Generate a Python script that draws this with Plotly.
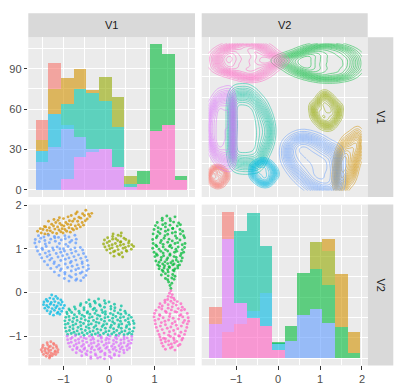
import numpy as np
import plotly.graph_objects as go

# ---------------- data ----------------
cluster_names = ["1", "2", "3", "4", "5", "6", "7", "8", "9"]
cluster_colors = ["#F8766D", "#D39200", "#93AA00", "#00BA38", "#00C19F",
                  "#00B9E3", "#619CFF", "#DB72FB", "#FF61C3"]

red_v1 = [-1.36,-1.28,-1.22, -1.45,-1.35,-1.29,-1.21,-1.16, -1.46,-1.40,-1.32,-1.23,-1.15,
          -1.49,-1.41,-1.34,-1.28,-1.18,-1.12, -1.47,-1.39,-1.32,-1.27,-1.19,-1.13,
          -1.44,-1.35,-1.30,-1.22,-1.17, -1.38,-1.30,-1.25, -1.31]
red_v2 = [-1.15,-1.13,-1.17, -1.21,-1.20,-1.23,-1.19,-1.22, -1.26,-1.28,-1.25,-1.27,-1.26,
          -1.31,-1.33,-1.30,-1.32,-1.34,-1.31, -1.36,-1.38,-1.35,-1.39,-1.36,-1.37,
          -1.42,-1.40,-1.44,-1.41,-1.42, -1.46,-1.47,-1.45, -1.50]

orange_v1 = [-1.57,-1.51, -1.49,-1.45,-1.42, -1.41,-1.36,-1.39, -1.34,-1.29,-1.31,-1.26,-1.33,
             -1.24,-1.19,-1.22,-1.17,-1.21, -1.15,-1.10,-1.13,-1.08,-1.12, -1.06,-1.04,-1.09,-1.03,
             -1.01,-0.97,-0.99,-0.95,-1.00, -0.93,-0.88,-0.91,-0.87,-0.90, -0.85,-0.81,-0.84,-0.80,-0.83,
             -0.78,-0.74,-0.76,-0.73, -0.71,-0.67,-0.69,-0.66,-0.70, -0.63,-0.59,-0.62,-0.58,
             -0.56,-0.52,-0.54,-0.51, -0.48,-0.45, -0.42,-0.38]
orange_v2 = [1.40,1.46, 1.36,1.44,1.51, 1.34,1.42,1.50, 1.33,1.41,1.48,1.56,1.63,
             1.37,1.45,1.52,1.60,1.67, 1.35,1.43,1.50,1.58,1.65, 1.39,1.54,1.71,1.46,
             1.36,1.44,1.52,1.60,1.69, 1.40,1.48,1.56,1.64,1.73, 1.38,1.46,1.55,1.63,1.76,
             1.43,1.52,1.68,1.80, 1.46,1.55,1.63,1.72,1.84, 1.50,1.60,1.70,1.80,
             1.54,1.64,1.76,1.88, 1.68,1.79, 1.74,1.81]

olive_v1 = [0.09,0.20,0.27, -0.03,0.08,0.15,0.26,0.33, -0.10,0.01,0.08,0.19,0.26,0.37,0.44,
            -0.12,-0.04,0.07,0.14,0.25,0.32,0.43,0.50, -0.09,0.00,0.07,0.18,0.25,0.36,0.43,0.54,
            -0.05,0.02,0.13,0.20,0.31,0.38,0.49, 0.03,0.10,0.21,0.28,0.39, 0.11,0.23,0.30]
olive_v2 = [1.34,1.31,1.36, 1.25,1.28,1.23,1.29,1.24, 1.20,1.17,1.22,1.19,1.16,1.21,1.18,
            1.11,1.14,1.09,1.12,1.15,1.10,1.13,1.09, 1.04,1.07,1.02,1.05,1.08,1.03,1.06,1.05,
            0.97,1.00,0.95,0.98,1.01,0.96,0.99, 0.90,0.93,0.88,0.91,0.94, 0.83,0.86,0.81]

green_v1 = [1.17,1.27,1.34,1.45,
            1.06,1.17,1.24,1.35,1.42,1.53,
            1.02,1.08,1.18,1.24,1.34,1.40,1.50,1.57,
            0.99,1.08,1.14,1.24,1.30,1.40,1.46,1.56,1.62,
            0.97,1.06,1.12,1.23,1.29,1.39,1.46,1.57,1.64,
            0.96,1.04,1.15,1.21,1.32,1.39,1.49,1.56,1.66,
            0.97,1.03,1.13,1.19,1.29,1.35,1.45,1.51,1.61,1.67,
            0.96,1.05,1.10,1.19,1.24,1.33,1.38,1.47,1.52,1.61,1.66,
            0.99,1.04,1.14,1.19,1.29,1.34,1.44,1.49,1.59,1.64,
            1.01,1.06,1.15,1.20,1.29,1.34,1.43,1.48,1.57,1.61,
            1.03,1.10,1.14,1.23,1.27,1.36,1.40,1.48,1.52,1.59,
            1.07,1.11,1.18,1.22,1.29,1.32,1.40,1.43,1.51,1.55,
            1.10,1.17,1.21,1.29,1.33,1.41,1.45,1.51,
            1.19,1.30,1.43,
            1.15,1.24,1.30,1.40,1.45,
            1.24,1.29,1.38,1.43,
            1.31,1.38,
            1.34,1.36]
green_v2 = [1.70,1.75,1.69,1.73,
            1.60,1.65,1.58,1.64,1.61,1.59,
            1.53,1.48,1.55,1.50,1.54,1.47,1.52,1.55,
            1.44,1.39,1.45,1.40,1.43,1.46,1.38,1.44,1.40,
            1.34,1.29,1.35,1.30,1.33,1.36,1.29,1.34,1.30,
            1.21,1.25,1.19,1.24,1.22,1.18,1.24,1.20,1.25,
            1.12,1.08,1.14,1.10,1.15,1.08,1.12,1.14,1.09,1.12,
            1.01,1.05,0.99,1.04,0.98,1.05,1.02,0.99,1.04,0.98,1.03,
            0.92,0.88,0.94,0.90,0.95,0.88,0.92,0.94,0.89,0.92,
            0.82,0.85,0.80,0.84,0.79,0.85,0.82,0.80,0.84,0.79,
            0.72,0.69,0.74,0.70,0.75,0.68,0.72,0.74,0.70,0.72,
            0.63,0.60,0.65,0.61,0.66,0.59,0.63,0.65,0.61,0.63,
            0.54,0.51,0.56,0.52,0.57,0.51,0.54,0.56,
            0.48,0.47,0.49,
            0.40,0.43,0.38,0.41,0.37,
            0.32,0.29,0.33,0.30,
            0.24,0.21,
            0.16,0.09]

teal_v1 = [-0.44,-0.32,-0.23,-0.10,
           -0.62,-0.50,-0.42,-0.30,-0.21,-0.08,0.00,0.12,
           -0.76,-0.63,-0.55,-0.41,-0.32,-0.19,-0.10,0.04,0.13,0.27,
           -0.86,-0.74,-0.66,-0.55,-0.47,-0.35,-0.28,-0.16,-0.08,0.04,0.12,0.25,0.35,
           -0.92,-0.82,-0.76,-0.65,-0.59,-0.48,-0.42,-0.31,-0.25,-0.14,-0.08,0.03,0.09,0.20,0.26,0.37,0.44,
           -0.95,-0.88,-0.78,-0.71,-0.61,-0.54,-0.43,-0.37,-0.26,-0.20,-0.09,-0.02,0.08,0.15,0.25,0.32,0.42,0.49,
           -0.97,-0.87,-0.80,-0.70,-0.63,-0.52,-0.45,-0.34,-0.28,-0.17,-0.10,0.01,0.08,0.19,0.25,0.36,0.43,0.53,
           -0.96,-0.90,-0.79,-0.73,-0.62,-0.56,-0.45,-0.39,-0.29,-0.22,-0.12,-0.05,0.05,0.12,0.22,0.28,0.39,0.45,0.55,
           -0.96,-0.86,-0.79,-0.68,-0.61,-0.50,-0.44,-0.33,-0.26,-0.15,-0.08,0.03,0.10,0.21,0.27,0.38,0.45,0.55,
           -0.94,-0.87,-0.77,-0.70,-0.59,-0.52,-0.42,-0.35,-0.24,-0.18,-0.07,0.00,0.11,0.17,0.28,0.35,0.45,0.52,
           -0.91,-0.83,-0.73,-0.66,-0.55,-0.48,-0.38,-0.30,-0.20,-0.12,-0.02,0.06,0.16,0.23,0.33,0.41,0.50,
           -0.93,-0.88]
teal_v2 = [-0.17,-0.20,-0.15,-0.19,
           -0.26,-0.23,-0.27,-0.24,-0.28,-0.25,-0.22,-0.27,
           -0.33,-0.30,-0.35,-0.32,-0.36,-0.31,-0.34,-0.32,-0.35,-0.31,
           -0.41,-0.38,-0.43,-0.40,-0.44,-0.39,-0.42,-0.40,-0.44,-0.38,-0.42,-0.40,-0.43,
           -0.49,-0.46,-0.51,-0.48,-0.52,-0.47,-0.50,-0.48,-0.52,-0.46,-0.50,-0.48,-0.51,-0.47,-0.50,-0.48,-0.52,
           -0.57,-0.55,-0.59,-0.56,-0.60,-0.55,-0.58,-0.56,-0.60,-0.54,-0.58,-0.56,-0.59,-0.55,-0.58,-0.56,-0.60,-0.57,
           -0.65,-0.63,-0.67,-0.64,-0.68,-0.63,-0.66,-0.64,-0.68,-0.62,-0.66,-0.64,-0.67,-0.63,-0.66,-0.64,-0.68,-0.65,
           -0.73,-0.71,-0.75,-0.72,-0.76,-0.71,-0.74,-0.72,-0.76,-0.70,-0.74,-0.72,-0.75,-0.71,-0.74,-0.72,-0.76,-0.73,-0.71,
           -0.81,-0.79,-0.83,-0.80,-0.84,-0.79,-0.82,-0.80,-0.84,-0.78,-0.82,-0.80,-0.83,-0.79,-0.82,-0.80,-0.84,-0.81,
           -0.89,-0.87,-0.91,-0.88,-0.92,-0.87,-0.90,-0.88,-0.92,-0.86,-0.90,-0.88,-0.91,-0.87,-0.90,-0.88,-0.92,-0.89,
           -0.96,-0.94,-0.97,-0.95,-0.98,-0.94,-0.97,-0.95,-0.98,-0.94,-0.97,-0.95,-0.98,-0.94,-0.97,-0.95,-0.96,
           -0.45,-0.38]

cyan_v1 = [-1.26,-1.17, -1.38,-1.30,-1.22,-1.13,-1.06, -1.43,-1.35,-1.27,-1.19,-1.11,-1.03,
           -1.44,-1.37,-1.29,-1.21,-1.14,-1.06,-0.98, -1.41,-1.33,-1.25,-1.17,-1.09,-1.01,
           -1.36,-1.28,-1.20,-1.12,-1.04, -1.30,-1.22,-1.14,-1.08]
cyan_v2 = [-0.06,-0.09, -0.16,-0.13,-0.15,-0.14,-0.17, -0.22,-0.20,-0.23,-0.21,-0.24,-0.22,
           -0.28,-0.30,-0.27,-0.29,-0.31,-0.28,-0.30, -0.36,-0.34,-0.37,-0.35,-0.38,-0.36,
           -0.42,-0.44,-0.41,-0.45,-0.43, -0.49,-0.52,-0.48,-0.50]

blue_v1 = [-1.55,-1.43,-1.33,-1.20,-1.11,-0.97,-0.88,-0.75,
           -1.62,-1.50,-1.41,-1.28,-1.19,-1.05,-0.96,-0.82,-0.72,
           -1.63,-1.53,-1.40,-1.31,-1.18,-1.09,-0.95,-0.86,-0.73,
           -1.60,-1.47,-1.38,-1.24,-1.14,-1.00,-0.90,-0.75,-0.63,
           -1.57,-1.46,-1.32,-1.22,-1.08,-0.98,-0.84,-0.73,-0.58,
           -1.52,-1.40,-1.30,-1.16,-1.06,-0.92,-0.82,-0.67,-0.56,
           -1.48,-1.36,-1.26,-1.12,-1.02,-0.88,-0.77,-0.62,-0.51,
           -1.42,-1.30,-1.20,-1.06,-0.96,-0.83,-0.73,-0.59,-0.48,
           -1.35,-1.21,-1.10,-0.96,-0.85,-0.70,-0.59,-0.46,
           -1.28,-1.15,-1.05,-0.91,-0.81,-0.67,-0.57,-0.45,
           -1.20,-1.07,-0.97,-0.83,-0.73,-0.59,-0.49,
           -1.10,-0.97,-0.87,-0.73,-0.63,-0.51,
           -0.98,-0.83,-0.71,-0.56,
           -0.88,-0.73,-0.62]
blue_v2 = [1.30,1.27,1.31,1.28,1.26,1.30,1.27,1.31,
           1.21,1.24,1.19,1.22,1.25,1.20,1.23,1.19,1.22,
           1.13,1.16,1.11,1.14,1.17,1.12,1.10,1.15,1.13,
           1.04,1.01,1.05,1.02,1.04,1.00,1.05,1.02,1.03,
           0.95,0.98,0.94,0.97,1.00,0.95,0.98,0.94,0.97,
           0.87,0.90,0.86,0.89,0.92,0.87,0.90,0.86,0.89,
           0.79,0.82,0.78,0.81,0.84,0.79,0.82,0.78,0.81,
           0.71,0.74,0.70,0.73,0.76,0.71,0.74,0.70,0.73,
           0.63,0.66,0.62,0.65,0.68,0.63,0.66,0.62,
           0.55,0.58,0.54,0.57,0.60,0.55,0.58,0.54,
           0.47,0.50,0.46,0.49,0.52,0.47,0.50,
           0.39,0.42,0.38,0.41,0.44,0.39,
           0.32,0.35,0.31,0.34,
           0.26,0.28,0.27]

purple_v1 = [-0.92,-0.81,-0.74,-0.62,-0.55,-0.43,-0.36,-0.24,-0.17,-0.05,0.02,0.14,0.21,0.33,0.40,0.50,
             -0.91,-0.84,-0.74,-0.67,-0.58,-0.50,-0.40,-0.34,-0.24,-0.17,-0.07,0.00,0.10,0.17,0.26,0.33,0.43,0.50,
             -0.89,-0.83,-0.72,-0.66,-0.56,-0.49,-0.39,-0.33,-0.23,-0.16,-0.06,0.00,0.10,0.16,0.26,0.33,0.42,0.48,
             -0.86,-0.77,-0.70,-0.60,-0.53,-0.44,-0.37,-0.27,-0.20,-0.11,-0.04,0.06,0.13,0.22,0.29,0.39,0.45,
             -0.80,-0.71,-0.64,-0.55,-0.48,-0.39,-0.32,-0.23,-0.16,-0.07,0.00,0.09,0.16,0.25,0.32,0.40,
             -0.72,-0.60,-0.51,-0.40,-0.30,-0.19,-0.09,0.02,0.12,0.23,0.33,
             -0.60,-0.49,-0.40,-0.29,-0.19,-0.09,0.01,0.12,0.22,
             -0.40,-0.25,-0.10,0.05]
purple_v2 = [-1.00,-1.03,-0.99,-1.02,-1.04,-1.00,-1.03,-0.99,-1.02,-1.04,-1.00,-1.03,-0.99,-1.02,-1.04,-1.01,
             -1.08,-1.06,-1.10,-1.07,-1.11,-1.06,-1.09,-1.07,-1.11,-1.05,-1.09,-1.07,-1.10,-1.06,-1.09,-1.07,-1.11,-1.08,
             -1.16,-1.14,-1.18,-1.15,-1.19,-1.14,-1.17,-1.15,-1.19,-1.13,-1.17,-1.15,-1.18,-1.14,-1.17,-1.15,-1.19,-1.16,
             -1.24,-1.22,-1.26,-1.23,-1.27,-1.22,-1.25,-1.23,-1.27,-1.21,-1.25,-1.23,-1.26,-1.22,-1.25,-1.23,-1.27,
             -1.31,-1.29,-1.33,-1.30,-1.34,-1.29,-1.32,-1.30,-1.34,-1.28,-1.32,-1.30,-1.33,-1.29,-1.32,-1.31,
             -1.38,-1.36,-1.40,-1.37,-1.41,-1.36,-1.39,-1.37,-1.41,-1.36,-1.38,
             -1.45,-1.43,-1.47,-1.44,-1.48,-1.43,-1.46,-1.44,-1.45,
             -1.51,-1.50,-1.52,-1.50]

pink_v1 = [1.36,1.33,1.39,1.30,1.37,1.42,
           1.23,1.29,1.36,1.44,1.50,
           1.12,1.23,1.30,1.41,1.48,1.58,
           1.10,1.17,1.30,1.39,1.52,1.61,
           1.03,1.16,1.24,1.37,1.45,1.59,1.66,
           1.00,1.11,1.26,1.34,1.49,1.58,1.72,
           0.99,1.12,1.19,1.33,1.41,1.55,1.62,1.74,
           1.01,1.09,1.23,1.31,1.45,1.53,1.66,1.75,
           1.02,1.15,1.24,1.39,1.48,1.63,1.72,
           1.04,1.13,1.28,1.36,1.51,1.59,1.71,
           1.07,1.17,1.33,1.42,1.58,1.68,
           1.10,1.21,1.31,1.45,1.53,1.66,
           1.12,1.20,1.35,1.42,1.55,1.62,
           1.14,1.24,1.31,1.43,1.49,1.60,
           1.16,1.24,1.37,1.44,1.56,
           1.19,1.31,1.39,1.52,
           1.24,1.35,1.45]
pink_v2 = [0.04,-0.02,-0.05,-0.09,-0.11,-0.13,
           -0.18,-0.16,-0.20,-0.17,-0.21,
           -0.26,-0.23,-0.28,-0.25,-0.29,-0.26,
           -0.34,-0.31,-0.36,-0.33,-0.37,-0.34,
           -0.41,-0.38,-0.43,-0.40,-0.44,-0.41,-0.39,
           -0.48,-0.51,-0.46,-0.49,-0.45,-0.51,-0.48,
           -0.56,-0.53,-0.58,-0.55,-0.59,-0.53,-0.56,-0.58,
           -0.64,-0.61,-0.66,-0.63,-0.67,-0.61,-0.64,-0.66,
           -0.72,-0.69,-0.74,-0.71,-0.75,-0.69,-0.72,
           -0.80,-0.77,-0.82,-0.79,-0.83,-0.77,-0.80,
           -0.88,-0.85,-0.90,-0.87,-0.91,-0.88,
           -0.96,-0.93,-0.98,-0.95,-0.99,-0.96,
           -1.02,-1.05,-1.01,-1.04,-1.00,-1.05,
           -1.09,-1.06,-1.11,-1.08,-1.12,-1.09,
           -1.16,-1.13,-1.18,-1.15,-1.19,
           -1.23,-1.20,-1.25,-1.22,
           -1.30,-1.27,-1.32]

# histogram counts (12 bins each)
v1_bin_start, v1_bin_width = -1.666, 0.304
v2_bin_start, v2_bin_width = -1.643, 0.300
v1_hist = {
    "1": [15, 19, 0, 0, 0, 0, 0, 0, 0, 0, 0, 0],
    "2": [8, 19, 19, 15, 2, 0, 0, 0, 0, 0, 0, 0],
    "3": [0, 0, 0, 0, 0, 18, 22, 6, 0, 0, 0, 0],
    "4": [0, 0, 0, 0, 0, 0, 0, 0, 10, 64, 53, 3],
    "5": [0, 0, 16, 36, 42, 36, 30, 2, 0, 0, 0, 0],
    "6": [8, 24, 3, 0, 0, 0, 0, 0, 0, 0, 0, 0],
    "7": [21, 32, 37, 15, 2, 0, 0, 0, 0, 0, 0, 0],
    "8": [0, 0, 8, 24, 28, 30, 17, 2, 0, 0, 0, 0],
    "9": [0, 0, 0, 0, 0, 0, 0, 0, 4, 44, 48, 7],
}
v2_hist = {
    "1": [13, 20, 0, 0, 0, 0, 0, 0, 0, 0, 0, 0],
    "2": [0, 0, 0, 0, 0, 0, 0, 0, 0, 9, 39, 15],
    "3": [0, 0, 0, 0, 0, 0, 0, 0, 20, 25, 0, 0],
    "4": [0, 0, 0, 0, 0, 1, 11, 31, 30, 28, 23, 4],
    "5": [0, 0, 53, 72, 35, 0, 0, 0, 0, 0, 0, 0],
    "6": [0, 0, 0, 5, 24, 5, 0, 0, 0, 0, 0, 0],
    "7": [0, 0, 0, 0, 0, 0, 13, 32, 36, 26, 0, 0],
    "8": [25, 69, 16, 0, 0, 0, 0, 0, 0, 0, 0, 0],
    "9": [0, 19, 25, 30, 24, 6, 0, 0, 0, 0, 0, 0],
}
count_ticks = [0, 30, 60, 90]
v_ticks = [-1, 0, 1, 2]

points = {
    "1": (red_v1, red_v2), "2": (orange_v1, orange_v2), "3": (olive_v1, olive_v2),
    "4": (green_v1, green_v2), "5": (teal_v1, teal_v2), "6": (cyan_v1, cyan_v2),
    "7": (blue_v1, blue_v2), "8": (purple_v1, purple_v2), "9": (pink_v1, pink_v2),
}

# ---------------- figure ----------------
W, H = 400, 392
def fx(px): return px / W
def fy(py): return 1 - py / H

fig = go.Figure()
FONT = "Liberation Sans, Arial, sans-serif"

# diagonal histograms, stacked (last level at the bottom)
for name, col in reversed(list(zip(cluster_names, cluster_colors))):
    c1 = [v1_bin_start + (k + 0.5) * v1_bin_width for k in range(12)]
    c2 = [v2_bin_start + (k + 0.5) * v2_bin_width for k in range(12)]
    fig.add_trace(go.Bar(x=c1, y=v1_hist[name], width=v1_bin_width,
                         marker=dict(color=col, line=dict(width=0)), opacity=0.6,
                         xaxis="x", yaxis="y", showlegend=False, hoverinfo="skip"))
    fig.add_trace(go.Bar(x=c2, y=v2_hist[name], width=v2_bin_width,
                         marker=dict(color=col, line=dict(width=0)), opacity=0.6,
                         xaxis="x4", yaxis="y4", showlegend=False, hoverinfo="skip"))

# density contours (x = V2, y = V1)
all_v1 = np.concatenate([np.array(points[n][0]) for n in cluster_names])
all_v2 = np.concatenate([np.array(points[n][1]) for n in cluster_names])
gx = np.linspace(all_v2.min(), all_v2.max(), 100)
gy = np.linspace(all_v1.min(), all_v1.max(), 100)

def bw(v):
    q = np.percentile(v, [25, 75])
    s = min(np.std(v, ddof=1), (q[1] - q[0]) / 1.34)
    return 1.06 * s * len(v) ** (-0.2)

for name, col in zip(cluster_names, cluster_colors):
    yv = np.array(points[name][0]); xv = np.array(points[name][1])
    hx, hy = bw(xv), bw(yv)
    ex = np.exp(-0.5 * ((gx[:, None] - xv[None, :]) / hx) ** 2)
    ey = np.exp(-0.5 * ((gy[:, None] - yv[None, :]) / hy) ** 2)
    z = ey @ ex.T / (len(xv) * 2 * np.pi * hx * hy)
    zmax = z.max()
    fig.add_trace(go.Contour(x=gx, y=gy, z=z, xaxis="x2", yaxis="y2",
                             contours=dict(coloring="lines", start=zmax / 16,
                                           end=zmax * 0.99, size=zmax / 16),
                             colorscale=[[0, col], [1, col]], showscale=False,
                             line=dict(width=0.6), opacity=0.85, hoverinfo="skip"))

# scatter
for name, col in zip(cluster_names, cluster_colors):
    fig.add_trace(go.Scatter(x=points[name][0], y=points[name][1], mode="markers",
                             marker=dict(size=2.9, color=col, opacity=0.75, line=dict(width=0)),
                             xaxis="x3", yaxis="y3", showlegend=False, hoverinfo="skip"))

dom_c1 = [fx(28.3), fx(195)]
dom_c2 = [fx(201.7), fx(367.7)]
dom_r1 = [fy(194), fy(31.7)]
dom_r2 = [fy(365), fy(201.7)]

half = [-1.5, -0.5, 0.5, 1.5]
def ax(domain, rng, anchor, tickvals, minor_vals, labels):
    d = dict(domain=domain, range=rng, anchor=anchor, showline=False, zeroline=False,
             showgrid=True, gridcolor="white", gridwidth=1.1,
             tickmode="array", tickvals=tickvals,
             minor=dict(tickmode="array", tickvals=minor_vals, showgrid=True,
                        gridcolor="white", gridwidth=0.55, ticks=""),
             tickfont=dict(family=FONT, size=11, color="#4D4D4D"))
    if labels:
        d.update(ticks="outside", ticklen=3.5, tickwidth=1.1, tickcolor="#333333",
                 showticklabels=True)
    else:
        d.update(ticks="", showticklabels=False)
    return d

fig.update_layout(
    width=W, height=H, margin=dict(l=0, r=0, t=0, b=0),
    paper_bgcolor="white", plot_bgcolor="#EBEBEB", barmode="stack", showlegend=False,
    xaxis=ax(dom_c1, [-1.848, 2.164], "y", v_ticks, half, False),
    yaxis=ax(dom_r1, [-5.4, 113.4], "x", count_ticks, [15, 45, 75, 105], True),
    xaxis2=ax(dom_c2, [-1.67, 2.01], "y2", v_ticks, half, False),
    yaxis2=ax(dom_r1, [-1.774, 1.89], "x2", v_ticks, half, False),
    xaxis3=ax(dom_c1, [-1.774, 1.89], "y3", v_ticks, half, True),
    yaxis3=ax(dom_r2, [-1.67, 2.01], "x3", v_ticks, half, True),
    xaxis4=ax(dom_c2, [-1.823, 2.137], "y4", v_ticks, half, True),
    yaxis4=ax(dom_r2, [-5.4, 113.4], "x4", count_ticks, [15, 45, 75, 105], False),
)

# strips
shapes, annos = [], []
for lab, dom in (("V1", dom_c1), ("V2", dom_c2)):
    shapes.append(dict(type="rect", xref="paper", yref="paper", x0=dom[0], x1=dom[1],
                       y0=fy(31.7), y1=fy(7.3), fillcolor="#D9D9D9", line=dict(width=0), layer="below"))
    annos.append(dict(xref="paper", yref="paper", x=(dom[0] + dom[1]) / 2, y=(fy(31.7) + fy(7.3)) / 2,
                      xanchor="center", yanchor="middle",
                      text=lab, showarrow=False, font=dict(family=FONT, size=11, color="#1A1A1A")))
for lab, dom in (("V1", dom_r1), ("V2", dom_r2)):
    shapes.append(dict(type="rect", xref="paper", yref="paper", x0=fx(367.7), x1=fx(393.3),
                       y0=dom[0], y1=dom[1], fillcolor="#D9D9D9", line=dict(width=0), layer="below"))
    annos.append(dict(xref="paper", yref="paper", x=(fx(367.7) + fx(393.3)) / 2, y=(dom[0] + dom[1]) / 2,
                      xanchor="center", yanchor="middle",
                      text=lab, textangle=90, showarrow=False,
                      font=dict(family=FONT, size=11, color="#1A1A1A")))
fig.update_layout(shapes=shapes, annotations=annos)

fig.write_html("out.html", config={"displayModeBar": False},
               post_script="document.body.style.margin='0';document.body.style.overflow='hidden';")
